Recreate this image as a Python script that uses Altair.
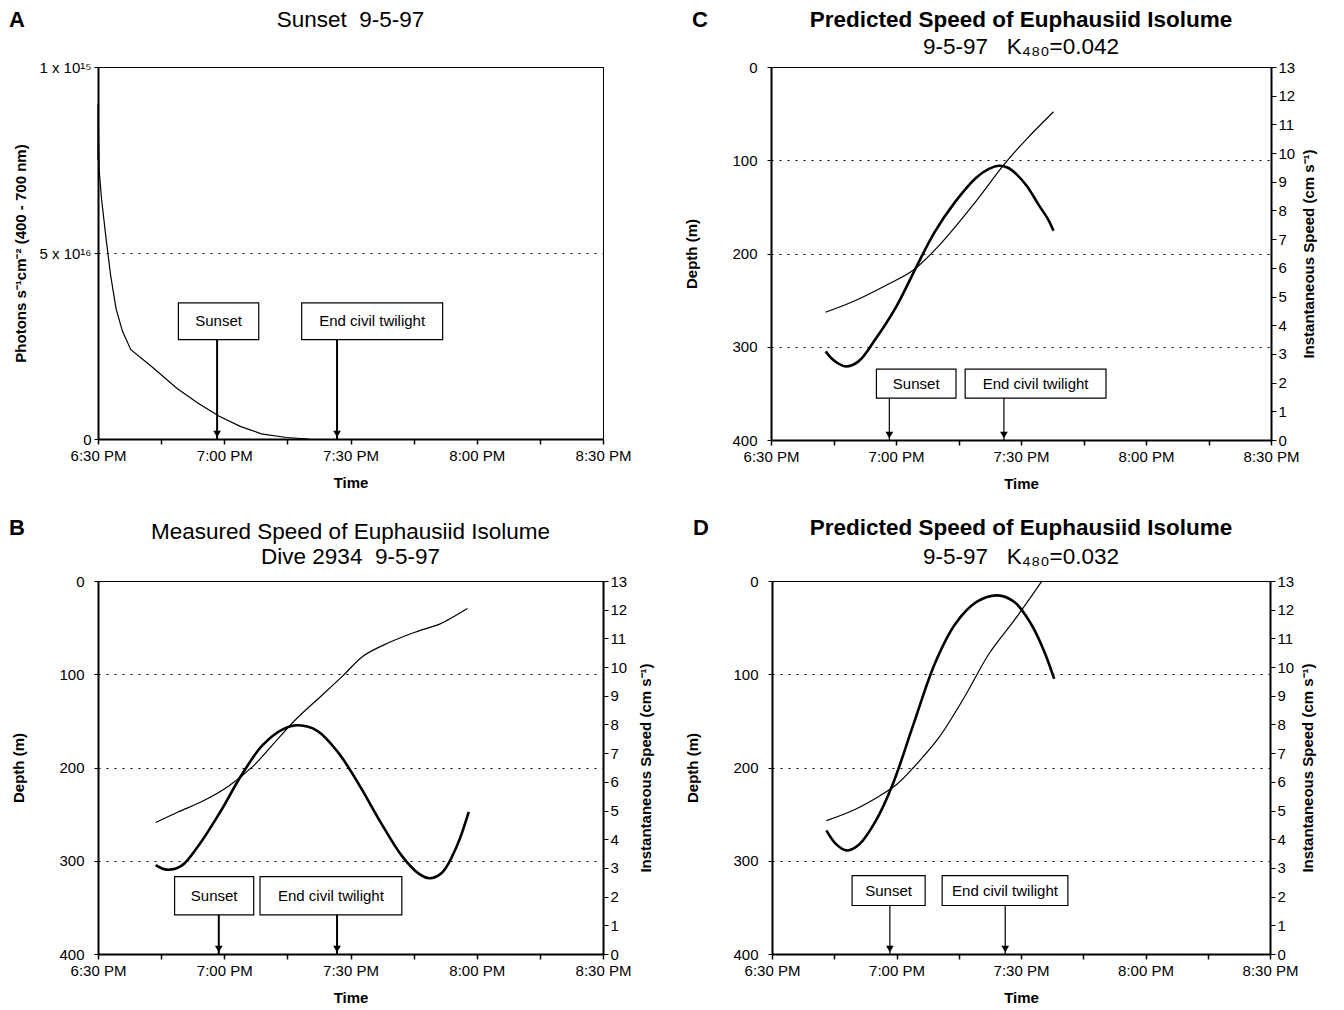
import altair as alt
import pandas as pd

FONT = "Liberation Sans"
NB = "\u00a0"

# ---------------- shared axis text ----------------
TIME_TICKS = [0, 30, 60, 90, 120]          # minutes after 6:30 PM
TIME_LABELS = ["6:30 PM", "7:00 PM", "7:30 PM", "8:00 PM", "8:30 PM"]
TIME_MINOR = [0, 15, 30, 45, 60, 75, 90, 105, 120]
DEPTH_TICKS = [0, 100, 200, 300, 400]
SPEED_TICKS = list(range(14))
BOX_LABELS = ["Sunset", "End civil twilight"]

# ---------------- Panel A : light ----------------
A_T = [0, 0, 0.3, 0.8, 1.8, 3.0, 4.3, 5.8, 7.8, 12.8, 18.8, 23.8, 28.8, 33.8, 38.8, 44.8, 50.0]
A_V = [0.75, 0.90, 0.72, 0.65, 0.55, 0.44, 0.35, 0.29, 0.24, 0.194, 0.136, 0.096, 0.061, 0.034, 0.014, 0.004, 0.0]
A_YTICKS = [0, 0.5, 1]
A_YLABELS = ["0", "5 x 10¹⁶", "1 x 10¹⁵"]
A_BOX_T0 = [19.1, 48.4]
A_BOX_T1 = [38.2, 81.9]
A_BOX_Y = [0.267, 0.366]
A_ARROW_T = [28.3, 56.8]

# ---------------- Panel B : measured ----------------
B_DEPTH_T = [13.7, 18.9, 24.9, 31, 37, 42, 47.1, 53.1, 58.1, 63.2, 69.2, 75.3, 81.3, 84.8, 87.8]
B_DEPTH = [259, 248, 236, 220, 198, 173, 148, 123, 102, 80, 66, 55, 46, 37.5, 29.6]
B_SPEED_T = [13.7, 16.4, 19.9, 23.9, 29, 34, 39, 44, 47.6, 52.1, 57.1, 62.2, 67.2, 72.2, 76.3, 78.8, 81.8, 85.3, 88.1]
B_SPEED = [3.1, 2.94, 3.08, 3.78, 4.94, 6.21, 7.26, 7.84, 7.97, 7.78, 7.02, 5.86, 4.58, 3.42, 2.79, 2.64, 2.84, 3.77, 4.95]
B_BOX_T0 = [18.2, 38.5]
B_BOX_T1 = [37.0, 72.2]
B_BOX_D = [317, 358]
B_ARROW_T = [28.7, 56.8]

# ---------------- Panel C : predicted K480=0.042 ----------------
C_DEPTH_T = [13.1, 20, 28.1, 34.1, 40.2, 48.3, 56.4, 61.4, 67.8]
C_DEPTH = [263, 251, 233, 218, 192, 149, 102, 77, 48]
C_SPEED_T = [13.1, 14.5, 16, 18, 21, 25, 30.1, 34.6, 39.2, 44.2, 49.3, 52.3, 54.8, 57.0, 59.0, 61.4, 64.4, 66.5, 67.8]
C_SPEED = [3.09, 2.85, 2.68, 2.56, 2.74, 3.5, 4.66, 5.95, 7.23, 8.3, 9.15, 9.45, 9.56, 9.48, 9.25, 8.85, 8.16, 7.69, 7.29]
C_BOX_T0 = [25.3, 46.6]
C_BOX_T1 = [44.4, 80.4]
C_BOX_D = [324, 355]
C_ARROW_T = [28.4, 55.9]

# ---------------- Panel D : predicted K480=0.032 ----------------
D_DEPTH_T = [13.1, 20, 26.1, 30.1, 34.1, 40.2, 46.3, 52.3, 58.4, 62.4, 64.9]
D_DEPTH = [257, 245, 230, 218, 200, 168, 125, 78, 42, 17, 1]
D_SPEED_T = [13.1, 15.5, 18, 21, 25, 29.1, 34.1, 39.2, 44.2, 49.3, 54.3, 58.4, 62.4, 65.5, 68]
D_SPEED = [4.31, 3.82, 3.61, 3.82, 4.64, 5.92, 8.01, 10.11, 11.51, 12.27, 12.5, 12.27, 11.51, 10.58, 9.59]
D_BOX_T0 = [19.3, 41.0]
D_BOX_T1 = [36.9, 71.3]
D_BOX_D = [316, 348]
D_ARROW_T = [28.4, 56.2]

LABEL_SIZE = 15
TITLE_SIZE = 22.5


def label_expr(values, labels):
    parts = " : ".join(f"datum.value == {v} ? '{l}'" for v, l in zip(values, labels))
    return parts + " : ''"


def x_enc(field="t"):
    return alt.X(
        f"{field}:Q",
        scale=alt.Scale(domain=[0, 120], nice=False, zero=False),
        axis=alt.Axis(
            values=TIME_MINOR, labelExpr=label_expr(TIME_TICKS, TIME_LABELS),
            title="Time", grid=False, tickSize=5, tickWidth=1.5, domainWidth=2,
            labelPadding=4, titlePadding=12, labelFlush=False, labelOverlap=False,
        ),
    )


def text_layer(text, tx, ty, size, bold, align="center"):
    return alt.Chart(pd.DataFrame({"l": [text]})).mark_text(
        fontSize=size, fontWeight="bold" if bold else "normal", align=align,
        baseline="alphabetic", font=FONT, color="black"
    ).encode(x=alt.value(tx), y=alt.value(ty), text="l:N")


def heading_layers(letter, lxy, lines, width):
    layers = [text_layer(letter, lxy[0], lxy[1], 22, True, "left")]
    for text, ty, bold in lines:
        layers.append(text_layer(text, width / 2, ty, TITLE_SIZE, bold))
    return layers


def annotation_layers(y_of, box_t0, box_t1, box_y, arrow_t, axis_val, arrow_w):
    boxes = pd.DataFrame({
        "t": box_t0, "t2": box_t1,
        "d": [box_y[0]] * 2, "d2": [box_y[1]] * 2,
        "tc": [(a + b) / 2 for a, b in zip(box_t0, box_t1)],
        "dc": [(box_y[0] + box_y[1]) / 2] * 2,
        "label": BOX_LABELS,
    })
    arrows = pd.DataFrame({"t": arrow_t, "d": [(box_y[0] + box_y[1]) / 2] * 2, "d2": [axis_val] * 2})
    heads = pd.DataFrame({"t": arrow_t, "d": [axis_val] * 2})
    rule = alt.Chart(arrows).mark_rule(color="black", strokeWidth=arrow_w).encode(
        x=x_enc("t"), y=y_of("d"), y2="d2:Q")
    head = alt.Chart(heads).mark_point(shape="triangle-down", filled=True, color="black",
                                       size=60, opacity=1, yOffset=-5).encode(
        x=x_enc("t"), y=y_of("d"))
    rect = alt.Chart(boxes).mark_rect(fill="white", stroke="black", strokeWidth=1.2).encode(
        x=x_enc("t"), x2="t2:Q", y=y_of("d"), y2="d2:Q")
    txt = alt.Chart(boxes).mark_text(fontSize=LABEL_SIZE, font=FONT, color="black",
                                     baseline="middle").encode(
        x=x_enc("tc"), y=y_of("dc"), text="label:N")
    return [rule, head, rect, txt]


# ---------------- build panel A ----------------
def a_y(field):
    return alt.Y(
        f"{field}:Q", scale=alt.Scale(domain=[0, 1], nice=False),
        axis=alt.Axis(values=A_YTICKS, labelExpr=label_expr(A_YTICKS, A_YLABELS),
                      title="Photons s⁻¹cm⁻² (400 - 700 nm)", grid=True, gridDash=[2, 6],
                      gridColor="black", gridWidth=1, tickSize=4, labelPadding=3,
                      titlePadding=10, domainWidth=2),
    )


A_W, A_H = 505, 372
a_df = pd.DataFrame({"t": A_T, "v": A_V, "i": list(range(len(A_T)))})
a_line = alt.Chart(a_df).mark_line(color="black", strokeWidth=1.2).encode(
    x=x_enc("t"), y=a_y("v"), order="i:Q")
panel_a = alt.layer(
    a_line,
    *annotation_layers(a_y, A_BOX_T0, A_BOX_T1, A_BOX_Y, A_ARROW_T, 0, 2),
    *heading_layers("A", (-89, -40), [(f"Sunset{NB}{NB}9-5-97", -40, False)], A_W),
).properties(width=A_W, height=A_H)


# ---------------- speed panels ----------------
def depth_y(field):
    return alt.Y(
        f"{field}:Q", scale=alt.Scale(domain=[0, 400], reverse=True, nice=False),
        axis=alt.Axis(values=DEPTH_TICKS, title="Depth (m)", grid=True, gridDash=[2, 6],
                      gridColor="black", gridWidth=1, tickSize=4, labelPadding=10,
                      titlePadding=32, domainWidth=2),
    )


def speed_panel(letter, lxy, lines, dt, dv, st, sv, bt0, bt1, bd, at, aw, width, height, rpad):
    depth_df = pd.DataFrame({"t": dt, "d": dv})
    speed_df = pd.DataFrame({"t": st, "s": sv})
    depth_line = alt.Chart(depth_df).mark_line(
        color="black", strokeWidth=1.2, interpolate="catmull-rom").encode(x=x_enc("t"), y=depth_y("d"))
    depth_group = alt.layer(
        depth_line,
        *annotation_layers(depth_y, bt0, bt1, bd, at, 400, aw),
        *heading_layers(letter, lxy, lines, width),
    )
    speed_line = alt.Chart(speed_df).mark_line(
        color="black", strokeWidth=2.6, interpolate="catmull-rom").encode(
        x=x_enc("t"),
        y=alt.Y("s:Q", scale=alt.Scale(domain=[0, 13], nice=False),
                axis=alt.Axis(orient="right", values=SPEED_TICKS,
                              title="Instantaneous Speed (cm s⁻¹)", titleAngle=270,
                              grid=False, tickSize=5, labelPadding=2, titlePadding=rpad,
                              domainWidth=2)),
    )
    return alt.layer(depth_group, speed_line).resolve_scale(y="independent").properties(
        width=width, height=height)


panel_b = speed_panel("B", (-89, -46),
                      [("Measured Speed of Euphausiid Isolume", -42, False),
                       (f"Dive 2934{NB}{NB}9-5-97", -17, False)],
                      B_DEPTH_T, B_DEPTH, B_SPEED_T, B_SPEED,
                      B_BOX_T0, B_BOX_T1, B_BOX_D, B_ARROW_T, 2, 505, 373, 27)
panel_c = speed_panel("C", (-79, -40),
                      [("Predicted Speed of Euphausiid Isolume", -40, True),
                       (f"9-5-97{NB}{NB}{NB}K₄₈₀=0.042", -13, False)],
                      C_DEPTH_T, C_DEPTH, C_SPEED_T, C_SPEED,
                      C_BOX_T0, C_BOX_T1, C_BOX_D, C_ARROW_T, 1.2, 500, 373, 22)
panel_d = speed_panel("D", (-79, -46),
                      [("Predicted Speed of Euphausiid Isolume", -46, True),
                       (f"9-5-97{NB}{NB}{NB}K₄₈₀=0.032", -17, False)],
                      D_DEPTH_T, D_DEPTH, D_SPEED_T, D_SPEED,
                      D_BOX_T0, D_BOX_T1, D_BOX_D, D_ARROW_T, 1.2, 498, 373, 22)

top = alt.hconcat(panel_a, panel_c, spacing=52)
bottom = alt.hconcat(panel_b, panel_d, spacing=30)

chart = alt.vconcat(top, bottom, spacing=24).properties(
    padding={"left": 0, "top": 0, "right": 5, "bottom": 5}, background="white"
).configure_view(stroke="black", strokeWidth=1).configure_axis(
    labelFont=FONT, titleFont=FONT, labelColor="black", titleColor="black",
    domainColor="black", tickColor="black", labelFontSize=LABEL_SIZE, titleFontSize=LABEL_SIZE,
    titleFontWeight="bold",
)

chart.save("out.html", embed_options={"renderer": "svg", "actions": False})
